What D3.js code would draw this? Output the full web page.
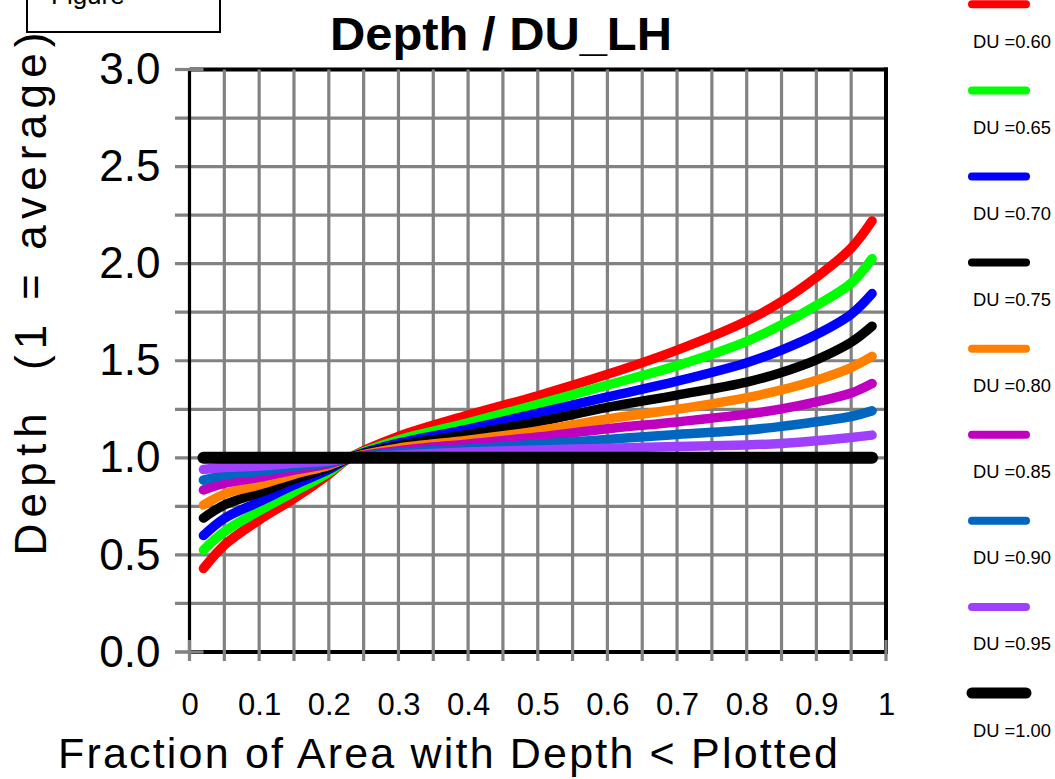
<!DOCTYPE html>
<html><head><meta charset="utf-8">
<script src="https://cdn.jsdelivr.net/npm/d3@7"></script>
<style>
body{margin:0;background:#fff;}
svg{display:block;}
text{font-family:"Liberation Sans",Arial,Helvetica,sans-serif;}
</style>
</head><body>
<svg id="c" width="1055" height="779"></svg>
<script>
// ---- data ----
const fractions = [0.02,0.05,0.10,0.15,0.20,0.23,0.30,0.40,0.50,0.60,0.70,0.80,0.85,0.90,0.95,0.98];
const du060 = [0.43,0.55,0.68,0.79,0.915,1.00,1.11,1.22,1.32,1.43,1.555,1.705,1.805,1.93,2.08,2.22];
const du065 = [0.525,0.62,0.727,0.825,0.925,1.00,1.092,1.18,1.275,1.375,1.475,1.60,1.685,1.785,1.90,2.026];
const du070 = [0.60,0.688,0.774,0.86,0.94,1.00,1.076,1.148,1.23,1.314,1.395,1.49,1.555,1.635,1.74,1.846];
const du075 = [0.69,0.757,0.82,0.889,0.951,1.00,1.063,1.12,1.185,1.26,1.323,1.39,1.44,1.505,1.595,1.678];
const du080 = [0.757,0.813,0.86,0.915,0.961,1.00,1.05,1.091,1.139,1.2,1.25,1.31,1.35,1.40,1.465,1.523];
const du085 = [0.834,0.868,0.899,0.937,0.969,1.00,1.037,1.072,1.107,1.15,1.185,1.225,1.252,1.288,1.334,1.383];
const du090 = [0.885,0.911,0.93,0.955,0.975,1.00,1.026,1.045,1.07,1.095,1.12,1.143,1.162,1.186,1.213,1.242];
const du095 = [0.94,0.95,0.958,0.972,0.984,1.00,1.015,1.03,1.04,1.05,1.058,1.066,1.074,1.088,1.105,1.117];
const du100 = [1,1,1,1,1,1,1,1,1,1,1,1,1,1,1,1];
const seriesNames = ["DU =0.60","DU =0.65","DU =0.70","DU =0.75","DU =0.80","DU =0.85","DU =0.90","DU =0.95","DU =1.00"];
const seriesValues = [du060,du065,du070,du075,du080,du085,du090,du095,du100];
const seriesColors = ["#ff0000","#00ff00","#0000ff","#000000","#ff8000","#c000c0","#0066c0","#a040ff","#000000"];
const xTickLabels = [0,0.1,0.2,0.3,0.4,0.5,0.6,0.7,0.8,0.9,1];
const yTickLabels = [0,0.5,1,1.5,2,2.5,3];
const xGridValues = d3.range(1,20).map(i=>i*0.05);
const yGridValues = d3.range(0,13).map(i=>i*0.25);
const titleText = "Depth / DU_LH";
const xTitle = "Fraction of Area with Depth < Plotted";
const yTitle = "Depth  (1 = average)";

// ---- drawing ----
const svg = d3.select('#c');
const x = d3.scaleLinear().domain([0,1]).range([189.5,886]);
const y = d3.scaleLinear().domain([0,3]).range([652,69.5]);
const GRAY = "#828282";

svg.append('rect').attr('width',1055).attr('height',779).attr('fill','#fff');

// top-left box (clipped at the top edge, as in the reference)
svg.append('rect').attr('x',27).attr('y',-10).attr('width',193).attr('height',42)
  .attr('fill','#fff').attr('stroke','#000').attr('stroke-width',2);
svg.append('text').attr('x',51).attr('y',4).attr('font-size',26).text('Figure');

// horizontal grid
svg.append('g').selectAll('line').data(yGridValues).join('line')
  .attr('x1',175).attr('x2',x(1)).attr('y1',d=>y(d)).attr('y2',d=>y(d))
  .attr('stroke',GRAY).attr('stroke-width',3.2);

// frame
const frame = svg.append('g').attr('stroke','#000');
frame.append('line').attr('x1',x(0)).attr('x2',x(0)).attr('y1',y(3)).attr('y2',y(0)).attr('stroke-width',3.2);
frame.append('line').attr('x1',x(0)).attr('x2',x(1)+2).attr('y1',y(3)).attr('y2',y(3)).attr('stroke-width',4);
frame.append('line').attr('x1',x(0)).attr('x2',x(1)+2).attr('y1',y(0)).attr('y2',y(0)).attr('stroke-width',4);
frame.append('line').attr('x1',x(1)).attr('x2',x(1)).attr('y1',y(3)-2).attr('y2',y(0)).attr('stroke-width',4);

// vertical grid (on top of frame)
svg.append('g').selectAll('line').data(xGridValues).join('line')
  .attr('x1',d=>x(d)).attr('x2',d=>x(d)).attr('y1',y(3)).attr('y2',y(0)+9)
  .attr('stroke',GRAY).attr('stroke-width',3.2);
// corner tick marks
const ct = svg.append('g').attr('stroke',GRAY).attr('stroke-width',3.2);
[0,1].forEach(v=>ct.append('line').attr('x1',x(v)).attr('x2',x(v)).attr('y1',y(0)-12).attr('y2',y(0)+9));
[0,3].forEach(v=>ct.append('line').attr('x1',175).attr('x2',x(0)+14).attr('y1',y(v)).attr('y2',y(v)));

// axes labels via d3 axes
const yAxis = d3.axisLeft(y).tickValues(yTickLabels).tickFormat(d3.format('.1f')).tickSize(0).tickPadding(29);
svg.append('g').attr('transform',`translate(${x(0)},0)`).call(yAxis)
  .call(g=>g.select('.domain').remove())
  .attr('font-family',null).attr('font-size',null)
  .selectAll('text').attr('font-size',44).attr('fill','#000');

const xAxis = d3.axisBottom(x).tickValues(xTickLabels)
  .tickFormat(d=> (d===0||d===1) ? String(d) : d.toFixed(1)).tickSize(0).tickPadding(41);
svg.append('g').attr('transform',`translate(0,${y(0)})`).call(xAxis)
  .call(g=>g.select('.domain').remove())
  .attr('font-family',null).attr('font-size',null)
  .selectAll('text').attr('font-size',31).attr('fill','#000');

// titles
svg.append('text').attr('x',501).attr('y',50).attr('text-anchor','middle')
  .attr('font-size',46).attr('font-weight','bold')
  .attr('textLength',342).attr('lengthAdjust','spacingAndGlyphs').text(titleText);
svg.append('text').attr('x',448).attr('y',768).attr('text-anchor','middle')
  .attr('font-size',43).attr('textLength',780).attr('lengthAdjust','spacing').text(xTitle);
svg.append('text').attr('transform','translate(46,294) rotate(-90)').attr('text-anchor','middle')
  .style('white-space','pre')
  .attr('font-size',44).attr('textLength',523).attr('lengthAdjust','spacing').text(yTitle);

// curves
const line = d3.line().x(d=>x(d[0])).y(d=>y(d[1])).curve(d3.curveCatmullRom.alpha(0.5));
svg.append('g').selectAll('path').data(seriesValues).join('path')
  .attr('d',vals=>line(fractions.map((f,i)=>[f,vals[i]])))
  .attr('fill','none')
  .attr('stroke',(d,i)=>seriesColors[i])
  .attr('stroke-width',(d,i)=> i===8 ? 12 : 9.5)
  .attr('stroke-linecap','round').attr('stroke-linejoin','round');

// legend
const lg = svg.append('g');
const lgY = d3.scaleLinear().domain([0,8]).range([4.3,693]);
lg.selectAll('line').data(seriesNames).join('line')
  .attr('x1',972).attr('x2',1026).attr('y1',(d,i)=>lgY(i)).attr('y2',(d,i)=>lgY(i))
  .attr('stroke',(d,i)=>seriesColors[i]).attr('stroke-width',(d,i)=> i===8 ? 11 : 8)
  .attr('stroke-linecap','round');
lg.selectAll('text').data(seriesNames).join('text')
  .attr('x',973).attr('y',(d,i)=>lgY(i)+43.5)
  .attr('font-size',18).attr('textLength',78).attr('lengthAdjust','spacingAndGlyphs')
  .text(d=>d);
</script>
</body></html>
